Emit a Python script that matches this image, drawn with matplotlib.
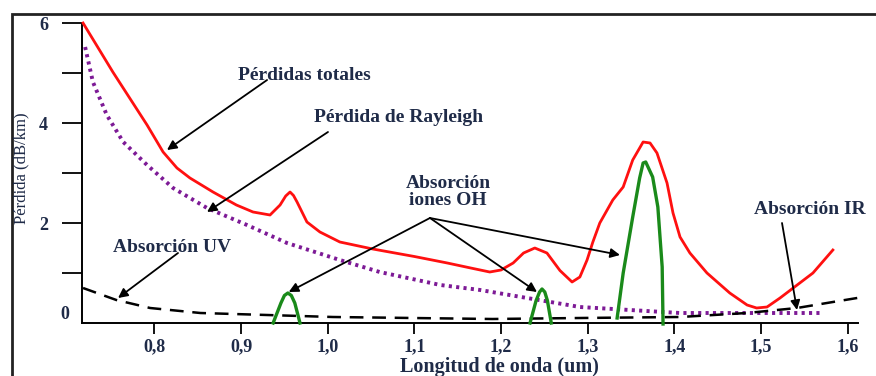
import matplotlib
matplotlib.use("Agg")
import matplotlib.pyplot as plt
from matplotlib.patches import Rectangle
from matplotlib.transforms import blended_transform_factory

plt.rcParams['font.family'] = ['Liberation Serif', 'DejaVu Serif']

# ---- data ----
total_w = [0.7176, 0.752, 0.7915, 0.810, 0.826, 0.841, 0.8676, 0.8946, 0.9138, 0.9334,
           0.945, 0.9515, 0.9565, 0.9605, 0.9646, 0.976, 0.991, 1.014, 1.052, 1.100,
           1.138, 1.165, 1.187, 1.200, 1.214, 1.226, 1.239, 1.253, 1.268, 1.282,
           1.291, 1.2993, 1.306, 1.314, 1.329, 1.341, 1.352, 1.364, 1.372, 1.380,
           1.3916, 1.3985, 1.4066, 1.418, 1.4377, 1.464, 1.484, 1.495, 1.507, 1.522,
           1.560, 1.583]
total_db = [6.0, 5.02, 3.96, 3.42, 3.10, 2.90, 2.62, 2.36, 2.22, 2.16,
            2.36, 2.54, 2.62, 2.55, 2.42, 2.02, 1.82, 1.62, 1.48, 1.33,
            1.20, 1.10, 1.02, 1.06, 1.20, 1.40, 1.50, 1.40, 1.05, 0.82,
            0.92, 1.26, 1.62, 2.00, 2.46, 2.72, 3.26, 3.62, 3.60, 3.40,
            2.80, 2.20, 1.72, 1.40, 1.00, 0.60, 0.36, 0.30, 0.32, 0.50,
            1.00, 1.46]

rayleigh_w = [0.7200, 0.729, 0.745, 0.764, 0.7915, 0.8215, 0.8607, 0.9068, 0.953, 1.014,
              1.060, 1.130, 1.176, 1.291, 1.4066, 1.5716]
rayleigh_db = [5.52, 4.82, 4.16, 3.62, 3.16, 2.70, 2.30, 1.96, 1.60, 1.26,
               1.02, 0.76, 0.66, 0.32, 0.20, 0.20]

uvir_w = [0.7176, 0.756, 0.795, 0.853, 0.930, 1.006, 1.190, 1.291, 1.4066, 1.484,
          1.5416, 1.583, 1.618]
uvir_db = [0.70, 0.46, 0.30, 0.20, 0.16, 0.12, 0.08, 0.10, 0.12, 0.20,
           0.30, 0.42, 0.52]

oh1_w = [0.937, 0.946, 0.950, 0.954, 0.958, 0.962, 0.968]
oh1_db = [0.0, 0.40, 0.55, 0.60, 0.55, 0.40, 0.0]
oh2_w = [1.2335, 1.2405, 1.2445, 1.2473, 1.2505, 1.2535, 1.258]
oh2_db = [0.0, 0.45, 0.62, 0.68, 0.62, 0.45, 0.0]
oh3_w = [1.334, 1.341, 1.352, 1.360, 1.364, 1.367, 1.375, 1.381, 1.386, 1.387]
oh3_db = [0.10, 1.00, 2.12, 2.90, 3.20, 3.22, 2.92, 2.32, 1.12, -0.02]

x_ticks = [0.8, 0.9, 1.0, 1.1, 1.2, 1.3, 1.4, 1.5, 1.6]
x_ticklabels = ['0,8', '0,9', '1,0', '1,1', '1,2', '1,3', '1,4', '1,5', '1,6']
y_ticks = [1, 2, 3, 4, 5, 6]
y_ticklabels = ['', '2', '', '4', '', '6']

TXT = '#1f2b48'

fig = plt.figure(figsize=(8.76, 3.76), dpi=100)
ax = fig.add_axes([82/876, 53/376, 776/876, 300/376])
ax.set_xlim(0.7164, 1.612)
ax.set_ylim(0, 6)

ax.plot(rayleigh_w, rayleigh_db, color='#7d1a96', lw=2.8, linestyle=(0, (0.8, 1.1)),
        dash_capstyle='butt', zorder=2)
ax.plot(uvir_w, uvir_db, color='black', lw=1.8, linestyle=(0, (5.5, 3.5)), zorder=2,
        clip_on=False)
ax.plot(total_w, total_db, color='#ff1010', lw=2.0, zorder=3, clip_on=False,
        solid_joinstyle='round')
for gw, gd in [(oh1_w, oh1_db), (oh2_w, oh2_db), (oh3_w, oh3_db)]:
    ax.plot(gw, gd, color='#1a8a1a', lw=2.4, zorder=3, clip_on=False,
            solid_joinstyle='round')

# spines & ticks
for s in ['top', 'right']:
    ax.spines[s].set_visible(False)
for s in ['left', 'bottom']:
    ax.spines[s].set_linewidth(1.4)
ax.set_xticks(x_ticks, x_ticklabels)
ax.set_yticks(y_ticks, y_ticklabels)
ax.tick_params(axis='y', length=14.5, width=1.3, pad=10, labelsize=13, labelcolor=TXT)
ax.tick_params(axis='x', length=8, width=1.3, pad=3, labelsize=13, labelcolor=TXT)
for lab in ax.get_xticklabels() + ax.get_yticklabels():
    lab.set_fontweight('bold')
ax.text(-0.016, 0, '0', transform=blended_transform_factory(ax.transAxes, ax.transData),
        ha='right', va='bottom', fontsize=13, fontweight='bold', color=TXT)

fig.text(499/876, 1 - 367/376, 'Longitud de onda (um)', ha='center', va='center',
         fontsize=14.5, fontweight='bold', color=TXT)
fig.text(21/876, 1 - 168/376, 'Pérdida (dB/km)', rotation=90, ha='center', va='center',
         fontsize=12, color=TXT)

arrow = dict(arrowstyle='-|>', color='black', lw=1.3, mutation_scale=14,
             shrinkA=0, shrinkB=0)
tkw = dict(ha='center', va='center', fontsize=14, fontweight='bold', color=TXT)

ax.text(0.9727, 4.96, 'Pérdidas totales', **tkw)
ax.annotate('', xy=(0.8145, 3.46), xytext=(0.930, 4.86), arrowprops=arrow)

ax.text(1.0823, 4.10, 'Pérdida de Rayleigh', **tkw)
ax.annotate('', xy=(0.8607, 2.22), xytext=(1.0003, 3.82), arrowprops=arrow)

ax.text(0.8203, 1.52, 'Absorción UV', **tkw)
ax.annotate('', xy=(0.758, 0.50), xytext=(0.8272, 1.40), arrowprops=arrow)

ax.text(1.1388, 2.62, 'Absorción\niones OH', linespacing=1.0, **tkw)
for head in [(0.955, 0.62), (1.2415, 0.62), (1.3373, 1.36)]:
    ax.annotate('', xy=head, xytext=(1.118, 2.10), arrowprops=arrow)

ax.text(1.5566, 2.28, 'Absorción IR', **tkw)
ax.annotate('', xy=(1.5416, 0.26), xytext=(1.5243, 2.00), arrowprops=arrow)

# outer frame
fig.patches.append(Rectangle((12/876, -0.1), 1.2, (1 - 14/376) + 0.1,
                             transform=fig.transFigure, fill=False, lw=2,
                             ec='#222222'))

fig.savefig('out.png', dpi=100)
